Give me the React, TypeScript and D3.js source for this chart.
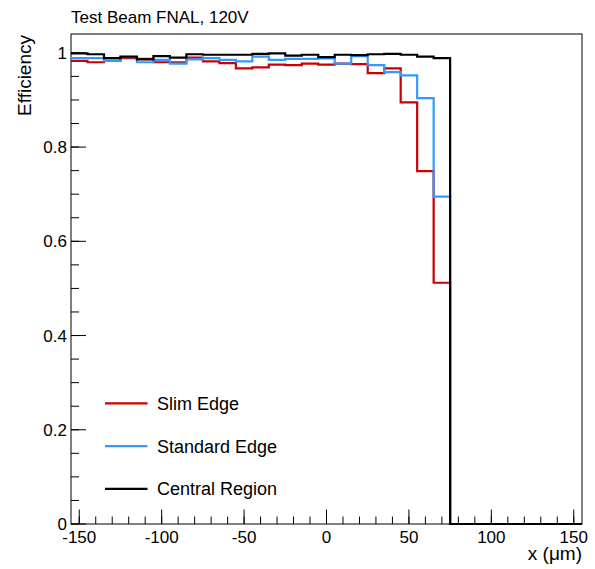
import React from "react";
import * as d3 from "d3";

const W = 595;
const H = 569;

// Bin edges: 31 bins of width 10 µm, from -155 to 155
const binLow = -155;
const binWidth = 10;
const nBins = 31;

const slimEdge = [0.983, 0.98, 0.983, 0.989, 0.987, 0.98, 0.98, 0.99, 0.982, 0.978, 0.967, 0.969, 0.975, 0.974, 0.977, 0.975, 0.977, 0.976, 0.957, 0.967, 0.895, 0.749, 0.512, 0, 0, 0, 0, 0, 0, 0, 0];
const standardEdge = [0.989, 0.989, 0.983, 0.991, 0.98, 0.985, 0.977, 0.986, 0.989, 0.985, 0.982, 0.992, 0.985, 0.987, 0.987, 0.988, 0.977, 0.993, 0.974, 0.959, 0.952, 0.904, 0.695, 0, 0, 0, 0, 0, 0, 0, 0];
const centralRegion = [0.999, 0.997, 0.989, 0.992, 0.986, 0.993, 0.99, 0.997, 0.996, 0.996, 0.996, 0.998, 0.999, 0.994, 0.996, 0.991, 0.996, 0.995, 0.997, 0.998, 0.996, 0.992, 0.989, 0, 0, 0, 0, 0, 0, 0, 0];

const xTicks = [-150, -100, -50, 0, 50, 100, 150];
const yTicks = [0, 0.2, 0.4, 0.6, 0.8, 1];
const legendNames = ["Slim Edge", "Standard Edge", "Central Region"];
const colors = ["#cc0000", "#3399ff", "#000000"];

const left = 71;
const right = 582;
const top = 34;
const bottom = 524;

const font = "'Liberation Sans', Arial, Helvetica, sans-serif";

export default function App() {
  const x = d3.scaleLinear().domain([-155, 155]).range([left, right]);
  const y = d3.scaleLinear().domain([0, 1.04]).range([bottom, top]);

  const series = [slimEdge, standardEdge, centralRegion];

  const line = d3
    .line<[number, number]>()
    .x((d) => x(d[0]))
    .y((d) => y(d[1]));

  const stepPts = (vals: number[]) => {
    const pts: [number, number][] = [];
    for (let i = 0; i < nBins; i++) {
      const lo = binLow + i * binWidth;
      pts.push([lo, vals[i]]);
      pts.push([lo + binWidth, vals[i]]);
    }
    return pts;
  };

  const xMinor = d3.range(-150, 151, 10);
  const yMinor = d3.range(0, 1.0001, 0.05);

  return (
    <svg
      width={W}
      height={H}
      style={{ position: "absolute", left: 0, top: 0, background: "#fff" }}
      fontFamily={font}
    >
      <rect x={0} y={0} width={W} height={H} fill="#fff" />
      {/* frame */}
      <rect x={left} y={top} width={right - left} height={bottom - top} fill="none" stroke="#000" strokeWidth={1} />

      {/* x ticks */}
      {xMinor.map((t) => (
        <line key={"xm" + t} x1={x(t)} x2={x(t)} y1={bottom} y2={bottom - 7.5} stroke="#000" strokeWidth={1} />
      ))}
      {xTicks.map((t) => (
        <line key={"xM" + t} x1={x(t)} x2={x(t)} y1={bottom} y2={bottom - 14.5} stroke="#000" strokeWidth={1} />
      ))}
      {xTicks.map((t) => (
        <text key={"xl" + t} x={x(t)} y={543} textAnchor="middle" fontSize={17}>
          {t}
        </text>
      ))}

      {/* y ticks */}
      {yMinor.map((t, i) => (
        <line key={"ym" + i} x1={left} x2={left + 8} y1={y(t)} y2={y(t)} stroke="#000" strokeWidth={1} />
      ))}
      {yTicks.map((t) => (
        <line key={"yM" + t} x1={left} x2={left + 15} y1={y(t)} y2={y(t)} stroke="#000" strokeWidth={1} />
      ))}
      {yTicks.map((t) => (
        <text key={"yl" + t} x={67} y={y(t) + 6} textAnchor="end" fontSize={17}>
          {d3.format("~g")(t)}
        </text>
      ))}

      {/* histograms */}
      {series.map((s, i) => (
        <path key={"h" + i} d={line(stepPts(s)) || ""} fill="none" stroke={colors[i]} strokeWidth={2.2} />
      ))}

      {/* legend */}
      {legendNames.map((n, i) => (
        <g key={"lg" + i}>
          <line x1={105} x2={147.5} y1={403.3 + i * 42.8} y2={403.3 + i * 42.8} stroke={colors[i]} strokeWidth={2.2} />
          <text x={157} y={403.3 + i * 42.8 + 6.5} fontSize={18}>
            {n}
          </text>
        </g>
      ))}

      {/* title */}
      <text x={71} y={22.5} fontSize={17}>
        Test Beam FNAL, 120V
      </text>

      {/* axis titles */}
      <text transform={`translate(31,35) rotate(-90)`} textAnchor="end" fontSize={19}>
        Efficiency
      </text>
      <text x={582} y={560} textAnchor="end" fontSize={19}>
        x (μm)
      </text>
    </svg>
  );
}
